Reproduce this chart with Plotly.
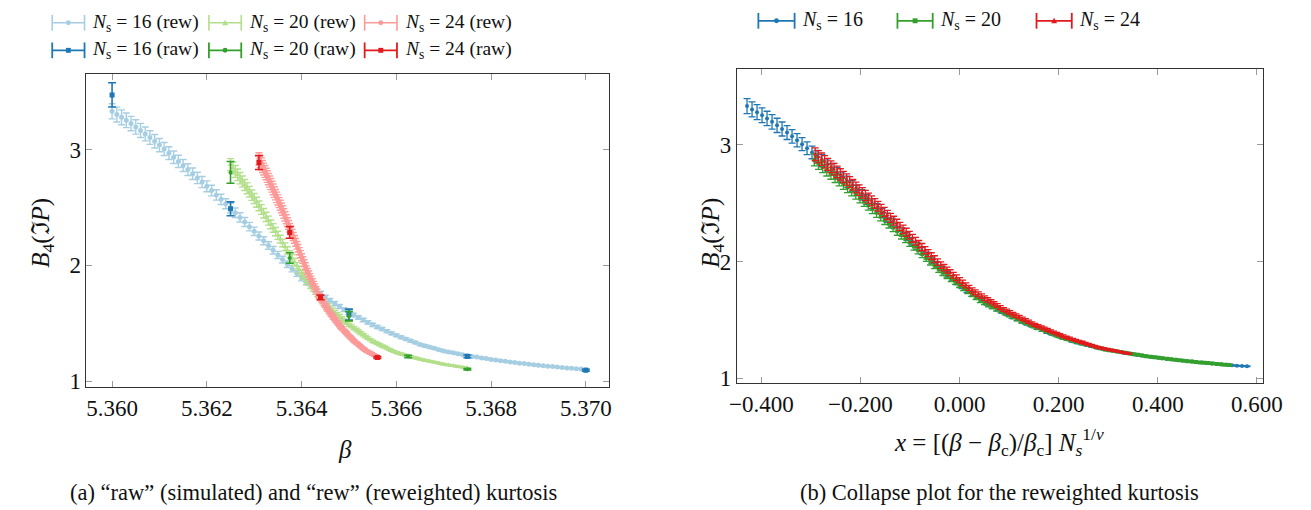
import plotly.graph_objects as go

W, H = 1311, 510
FONT = "Liberation Serif"

# ---------------- data: reweighted kurtosis curves ----------------
beta16 = [5.3600, 5.3601, 5.3602, 5.3603, 5.3604, 5.3605, 5.3606, 5.3607, 5.3608, 5.3609,
          5.3610, 5.3611, 5.3612, 5.3613, 5.3614, 5.3615, 5.3616, 5.3617, 5.3618, 5.3619,
          5.3620, 5.3621, 5.3622, 5.3623, 5.3624, 5.3625, 5.3626, 5.3627, 5.3628, 5.3629,
          5.3630, 5.3631, 5.3632, 5.3633, 5.3634, 5.3635, 5.3636, 5.3637, 5.3638, 5.3639,
          5.3640, 5.3641, 5.3642, 5.3643, 5.3644, 5.3645, 5.3646, 5.3647, 5.3648, 5.3649,
          5.3650, 5.3651, 5.3652, 5.3653, 5.3654, 5.3655, 5.3656, 5.3657, 5.3658, 5.3659,
          5.3660, 5.3661, 5.3662, 5.3663, 5.3664, 5.3665, 5.3666, 5.3667, 5.3668, 5.3669,
          5.3670, 5.3671, 5.3672, 5.3673, 5.3674, 5.3675, 5.3676, 5.3677, 5.3678, 5.3679,
          5.3680, 5.3681, 5.3682, 5.3683, 5.3684, 5.3685, 5.3686, 5.3687, 5.3688, 5.3689,
          5.3690, 5.3691, 5.3692, 5.3693, 5.3694, 5.3695, 5.3696, 5.3697, 5.3698, 5.3699,
          5.3700]
rew16 = [3.332, 3.304, 3.280, 3.254, 3.226, 3.197, 3.167, 3.136, 3.105, 3.073,
         3.040, 3.006, 2.971, 2.935, 2.899, 2.864, 2.828, 2.792, 2.756, 2.720,
         2.684, 2.647, 2.609, 2.571, 2.533, 2.495, 2.455, 2.415, 2.375, 2.335,
         2.295, 2.254, 2.213, 2.172, 2.131, 2.090, 2.050, 2.010, 1.971, 1.931,
         1.891, 1.857, 1.823, 1.790, 1.756, 1.722, 1.696, 1.670, 1.644, 1.618,
         1.592, 1.571, 1.550, 1.528, 1.507, 1.486, 1.468, 1.450, 1.431, 1.413,
         1.395, 1.379, 1.364, 1.348, 1.333, 1.317, 1.306, 1.294, 1.283, 1.271,
         1.260, 1.252, 1.244, 1.236, 1.228, 1.220, 1.213, 1.207, 1.200, 1.194,
         1.187, 1.182, 1.176, 1.171, 1.165, 1.160, 1.155, 1.151, 1.146, 1.142,
         1.137, 1.133, 1.129, 1.125, 1.121, 1.117, 1.114, 1.111, 1.107, 1.104,
         1.101]
rew16_err = [0.065, 0.064, 0.064, 0.063, 0.062, 0.062, 0.061, 0.060, 0.059, 0.058,
             0.057, 0.056, 0.055, 0.054, 0.053, 0.052, 0.051, 0.050, 0.049, 0.048,
             0.047, 0.046, 0.045, 0.044, 0.043, 0.042, 0.041, 0.040, 0.039, 0.037,
             0.036, 0.035, 0.034, 0.033, 0.032, 0.031, 0.029, 0.028, 0.027, 0.026,
             0.025, 0.024, 0.023, 0.022, 0.021, 0.020, 0.019, 0.019, 0.018, 0.017,
             0.017, 0.016, 0.015, 0.015, 0.014, 0.014, 0.013, 0.013, 0.012, 0.012,
             0.011, 0.011, 0.010, 0.010, 0.009, 0.009, 0.009, 0.008, 0.008, 0.008,
             0.007, 0.007, 0.007, 0.007, 0.006, 0.006, 0.006, 0.006, 0.006, 0.005,
             0.005, 0.005, 0.005, 0.005, 0.005, 0.004, 0.004, 0.004, 0.004, 0.004,
             0.004, 0.004, 0.004, 0.004, 0.003, 0.003, 0.003, 0.003, 0.003, 0.003,
             0.003]

beta20 = [5.36250, 5.36255, 5.36260, 5.36265, 5.36270, 5.36275, 5.36280, 5.36285, 5.36290, 5.36295,
          5.36300, 5.36305, 5.36310, 5.36315, 5.36320, 5.36325, 5.36330, 5.36335, 5.36340, 5.36345,
          5.36350, 5.36355, 5.36360, 5.36365, 5.36370, 5.36375, 5.36380, 5.36385, 5.36390, 5.36395,
          5.36400, 5.36405, 5.36410, 5.36415, 5.36420, 5.36425, 5.36430, 5.36435, 5.36440, 5.36445,
          5.36450, 5.36455, 5.36460, 5.36465, 5.36470, 5.36475, 5.36480, 5.36485, 5.36490, 5.36495,
          5.36500, 5.36505, 5.36510, 5.36515, 5.36520, 5.36525, 5.36530, 5.36535, 5.36540, 5.36545,
          5.36550, 5.36555, 5.36560, 5.36565, 5.36570, 5.36575, 5.36580, 5.36585, 5.36590, 5.36595,
          5.36600, 5.36605, 5.36610, 5.36615, 5.36620, 5.36625, 5.36630, 5.36635, 5.36640, 5.36645,
          5.36650, 5.36655, 5.36660, 5.36665, 5.36670, 5.36675, 5.36680, 5.36685, 5.36690, 5.36695,
          5.36700, 5.36705, 5.36710, 5.36715, 5.36720, 5.36725, 5.36730, 5.36735, 5.36740, 5.36745,
          5.36750]
rew20 = [2.871, 2.842, 2.812, 2.783, 2.754, 2.725, 2.695, 2.666, 2.637, 2.607,
         2.578, 2.546, 2.514, 2.483, 2.451, 2.419, 2.387, 2.355, 2.324, 2.292,
         2.260, 2.227, 2.194, 2.162, 2.129, 2.096, 2.063, 2.030, 1.998, 1.965,
         1.932, 1.905, 1.879, 1.852, 1.826, 1.799, 1.772, 1.746, 1.719, 1.693,
         1.666, 1.648, 1.630, 1.612, 1.594, 1.577, 1.559, 1.541, 1.523, 1.505,
         1.487, 1.473, 1.458, 1.444, 1.429, 1.415, 1.401, 1.386, 1.372, 1.357,
         1.343, 1.333, 1.324, 1.314, 1.304, 1.295, 1.285, 1.275, 1.265, 1.256,
         1.246, 1.240, 1.234, 1.229, 1.223, 1.217, 1.211, 1.205, 1.200, 1.194,
         1.188, 1.184, 1.179, 1.175, 1.171, 1.167, 1.162, 1.158, 1.154, 1.149,
         1.145, 1.142, 1.138, 1.135, 1.132, 1.129, 1.125, 1.122, 1.119, 1.115,
         1.112]
rew20_err = [0.052, 0.052, 0.051, 0.050, 0.049, 0.048, 0.047, 0.047, 0.046, 0.045,
             0.044, 0.043, 0.042, 0.042, 0.041, 0.040, 0.039, 0.038, 0.037, 0.036,
             0.035, 0.034, 0.033, 0.033, 0.032, 0.031, 0.030, 0.029, 0.028, 0.027,
             0.026, 0.025, 0.025, 0.024, 0.023, 0.022, 0.022, 0.021, 0.020, 0.019,
             0.019, 0.018, 0.018, 0.017, 0.017, 0.016, 0.016, 0.015, 0.015, 0.014,
             0.014, 0.013, 0.013, 0.012, 0.012, 0.012, 0.011, 0.011, 0.010, 0.010,
             0.010, 0.009, 0.009, 0.009, 0.009, 0.008, 0.008, 0.008, 0.007, 0.007,
             0.007, 0.007, 0.007, 0.006, 0.006, 0.006, 0.006, 0.006, 0.006, 0.005,
             0.005, 0.005, 0.005, 0.005, 0.005, 0.005, 0.005, 0.004, 0.004, 0.004,
             0.004, 0.004, 0.004, 0.004, 0.004, 0.004, 0.004, 0.003, 0.003, 0.003,
             0.003]

beta24 = [5.363100, 5.363125, 5.363150, 5.363175, 5.363200, 5.363225, 5.363250, 5.363275, 5.363300, 5.363325,
          5.363350, 5.363375, 5.363400, 5.363425, 5.363450, 5.363475, 5.363500, 5.363525, 5.363550, 5.363575,
          5.363600, 5.363625, 5.363650, 5.363675, 5.363700, 5.363725, 5.363750, 5.363775, 5.363800, 5.363825,
          5.363850, 5.363875, 5.363900, 5.363925, 5.363950, 5.363975, 5.364000, 5.364025, 5.364050, 5.364075,
          5.364100, 5.364125, 5.364150, 5.364175, 5.364200, 5.364225, 5.364250, 5.364275, 5.364300, 5.364325,
          5.364350, 5.364375, 5.364400, 5.364425, 5.364450, 5.364475, 5.364500, 5.364525, 5.364550, 5.364575,
          5.364600, 5.364625, 5.364650, 5.364675, 5.364700, 5.364725, 5.364750, 5.364775, 5.364800, 5.364825,
          5.364850, 5.364875, 5.364900, 5.364925, 5.364950, 5.364975, 5.365000, 5.365025, 5.365050, 5.365075,
          5.365100, 5.365125, 5.365150, 5.365175, 5.365200, 5.365225, 5.365250, 5.365275, 5.365300, 5.365325,
          5.365350, 5.365375, 5.365400, 5.365425, 5.365450, 5.365475, 5.365500, 5.365525, 5.365550, 5.365575,
          5.365600]
rew24 = [2.920, 2.898, 2.877, 2.855, 2.833, 2.812, 2.790, 2.768, 2.746, 2.725,
         2.703, 2.680, 2.657, 2.634, 2.611, 2.588, 2.566, 2.543, 2.520, 2.497,
         2.474, 2.449, 2.424, 2.399, 2.374, 2.350, 2.325, 2.300, 2.275, 2.250,
         2.225, 2.199, 2.174, 2.148, 2.123, 2.097, 2.071, 2.046, 2.020, 1.995,
         1.969, 1.947, 1.926, 1.904, 1.882, 1.861, 1.839, 1.817, 1.795, 1.774,
         1.752, 1.736, 1.719, 1.703, 1.686, 1.670, 1.654, 1.637, 1.621, 1.604,
         1.588, 1.575, 1.562, 1.549, 1.536, 1.523, 1.509, 1.496, 1.483, 1.470,
         1.457, 1.446, 1.435, 1.425, 1.414, 1.403, 1.392, 1.381, 1.371, 1.360,
         1.349, 1.341, 1.332, 1.324, 1.315, 1.307, 1.298, 1.290, 1.281, 1.273,
         1.264, 1.259, 1.253, 1.248, 1.242, 1.237, 1.232, 1.226, 1.221, 1.215,
         1.210]
rew24_err = [0.054, 0.053, 0.053, 0.052, 0.051, 0.051, 0.050, 0.050, 0.049, 0.048,
             0.048, 0.047, 0.046, 0.046, 0.045, 0.045, 0.044, 0.043, 0.043, 0.042,
             0.041, 0.041, 0.040, 0.039, 0.038, 0.038, 0.037, 0.036, 0.036, 0.035,
             0.034, 0.034, 0.033, 0.032, 0.031, 0.031, 0.030, 0.029, 0.029, 0.028,
             0.027, 0.027, 0.026, 0.025, 0.025, 0.024, 0.023, 0.023, 0.022, 0.022,
             0.021, 0.021, 0.020, 0.020, 0.019, 0.019, 0.018, 0.018, 0.017, 0.017,
             0.016, 0.016, 0.016, 0.015, 0.015, 0.015, 0.014, 0.014, 0.014, 0.013,
             0.013, 0.012, 0.012, 0.012, 0.012, 0.011, 0.011, 0.011, 0.010, 0.010,
             0.010, 0.010, 0.009, 0.009, 0.009, 0.009, 0.008, 0.008, 0.008, 0.008,
             0.007, 0.007, 0.007, 0.007, 0.007, 0.007, 0.006, 0.006, 0.006, 0.006,
             0.006]

# ---------------- data: raw (simulated) points ----------------
raw16_beta = [5.3600, 5.3625, 5.3650, 5.3675, 5.3700]
raw16 = [3.474, 2.489, 1.575, 1.213, 1.094]
raw16_err = [0.105, 0.060, 0.047, 0.012, 0.008]
raw20_beta = [5.3625, 5.36375, 5.3650, 5.36625, 5.3675]
raw20 = [2.804, 2.064, 1.560, 1.213, 1.102]
raw20_err = [0.094, 0.045, 0.040, 0.010, 0.006]
raw24_beta = [5.3631, 5.36375, 5.3644, 5.3656]
raw24 = [2.889, 2.285, 1.723, 1.204]
raw24_err = [0.060, 0.050, 0.020, 0.008]

# collapse parameters (x = (beta - beta_c)/beta_c * N^(1/nu))
BETA_C = 5.36425
INV_NU = 2.27

# tick values
xticks_a = [5.360, 5.362, 5.364, 5.366, 5.368, 5.370]
xticks_b = [-0.4, -0.2, 0.0, 0.2, 0.4, 0.6]
yticks = [1, 2, 3]

LIGHT = {16: "#a6cee3", 20: "#b2df8a", 24: "#fb9a99"}
DARK = {16: "#1f78b4", 20: "#33a02c", 24: "#e31a1c"}


def P(px, py):
    return px / W, 1 - py / H


fig = go.Figure()

rew_sets = [(16, beta16, rew16, rew16_err, "circle"),
            (20, beta20, rew20, rew20_err, "triangle-up"),
            (24, beta24, rew24, rew24_err, "circle")]
raw_sets = [(16, raw16_beta, raw16, raw16_err, "square"),
            (20, raw20_beta, raw20, raw20_err, "circle"),
            (24, raw24_beta, raw24, raw24_err, "square")]

for N, b, y, e, sym in rew_sets:
    fig.add_trace(go.Scatter(
        x=b, y=y, mode="markers", xaxis="x", yaxis="y", showlegend=False, hoverinfo="skip",
        marker=dict(color=LIGHT[N], size=5, symbol=sym, line=dict(width=0)),
        error_y=dict(type="data", array=e, color=LIGHT[N], thickness=1.4, width=3.5)))

for N, b, y, e, sym in raw_sets:
    fig.add_trace(go.Scatter(
        x=b, y=y, mode="markers", xaxis="x", yaxis="y", showlegend=False, hoverinfo="skip",
        marker=dict(color=DARK[N], size=5 if sym == "square" else 4, symbol=sym, line=dict(width=0)),
        error_y=dict(type="data", array=e, color=DARK[N], thickness=1.6, width=4)))

collapse_sym = {16: "circle", 20: "square", 24: "triangle-up"}
for N, b, y, e, _ in rew_sets:
    xs = [(bb - BETA_C) / BETA_C * N ** INV_NU for bb in b]
    fig.add_trace(go.Scatter(
        x=xs, y=y, mode="markers", xaxis="x2", yaxis="y2", showlegend=False, hoverinfo="skip",
        marker=dict(color=DARK[N], size=4, symbol=collapse_sym[N], line=dict(width=0)),
        error_y=dict(type="data", array=e, color=DARK[N], thickness=1.3, width=3.5)))

axis_style = dict(showline=True, linecolor="#333333", linewidth=1, mirror="ticks",
                  ticks="inside", ticklen=6, tickwidth=1, tickcolor="#9a9a9a",
                  showgrid=False, zeroline=False,
                  tickfont=dict(family=FONT, size=23, color="#111111"))

fig.update_layout(
    width=W, height=H, autosize=False,
    margin=dict(l=0, r=0, t=0, b=0),
    paper_bgcolor="white", plot_bgcolor="white", showlegend=False,
    font=dict(family=FONT, color="#111111"),
    xaxis=dict(domain=[73 / W, 607 / W], range=[5.35946, 5.37050], anchor="y",
               tickvals=xticks_a, tickformat=".3f", **axis_style),
    yaxis=dict(domain=[1 - 385 / H, 1 - 67 / H], range=[0.949, 3.655], anchor="x",
               tickvals=yticks, **axis_style),
    xaxis2=dict(domain=[737 / W, 1274 / W], range=[-0.4494, 0.6119], anchor="y2",
                tickvals=xticks_b, tickformat=".3f", **axis_style),
    yaxis2=dict(domain=[1 - 381 / H, 1 - 62 / H], range=[0.958, 3.650], anchor="x2",
                tickvals=yticks, **axis_style),
)

annotations = []
shapes = []


def text(px, py, s, size, xanchor="center", angle=0):
    x, y = P(px, py)
    annotations.append(dict(x=x, y=y, xref="paper", yref="paper", text=s, showarrow=False,
                            xanchor=xanchor, yanchor="middle", textangle=angle,
                            font=dict(family=FONT, size=size, color="#111111")))


# axis titles and captions
text(337, 449, "<i>β</i>", 25)
text(28, 228, "<i>B</i><sub>4</sub>(ℑ<i>P</i>)", 25, angle=-90)
text(712, 228, "<i>B</i><sub>4</sub>(ℑ<i>P</i>)", 25, angle=-90)
text(1005, 441, "<i>x</i> = [(<i>β</i> − <i>β</i><sub>c</sub>)/<i>β</i><sub>c</sub>] "
                "<i>N</i><sub><i>s</i></sub><sup>1/<i>ν</i></sup>", 25)
text(305, 492, "(a) “raw” (simulated) and “rew” (reweighted) kurtosis", 22.5)
text(1005, 492, "(b) Collapse plot for the reweighted kurtosis", 22.5)


def legend_entry(x0, x1, yc, color, sym, tx, label, size, lw):
    def line(ax, ay, bx, by):
        (a, b_), (c, d) = P(ax, ay), P(bx, by)
        shapes.append(dict(type="line", xref="paper", yref="paper", x0=a, y0=b_, x1=c, y1=d,
                           line=dict(color=color, width=lw)))
    line(x0, yc, x1, yc)
    line(x0, yc - 8, x0, yc + 8)
    line(x1, yc - 8, x1, yc + 8)
    xm = (x0 + x1) / 2
    r = 2.5
    if sym == "triangle":
        pts = [P(xm - 3, yc + 2.5), P(xm + 3, yc + 2.5), P(xm, yc - 3)]
        path = "M {} {} L {} {} L {} {} Z".format(pts[0][0], pts[0][1], pts[1][0], pts[1][1],
                                                 pts[2][0], pts[2][1])
        shapes.append(dict(type="path", xref="paper", yref="paper", path=path,
                           fillcolor=color, line=dict(color=color, width=0)))
    else:
        (a, b_), (c, d) = P(xm - r, yc + r), P(xm + r, yc - r)
        shapes.append(dict(type="rect" if sym == "square" else "circle", xref="paper", yref="paper",
                           x0=a, y0=b_, x1=c, y1=d, fillcolor=color, line=dict(color=color, width=0)))
    text(tx, yc, label, size, xanchor="left")


cols_a = [(38, 71, 77), (198, 231, 237), (357, 390, 396)]
for (x0, x1, tx), N, sym in zip(cols_a, [16, 20, 24], ["circle", "triangle", "circle"]):
    legend_entry(x0, x1, 15, LIGHT[N], sym, tx,
                 "<i>N</i><sub>s</sub> = {} (rew)".format(N), 19.5, 1.6)
for (x0, x1, tx), N, sym in zip(cols_a, [16, 20, 24], ["square", "circle", "square"]):
    legend_entry(x0, x1, 43, DARK[N], sym, tx,
                 "<i>N</i><sub>s</sub> = {} (raw)".format(N), 19.5, 1.8)
cols_b = [(759, 796, 801), (901, 937, 942), (1043, 1079, 1084)]
for (x0, x1, tx), N, sym in zip(cols_b, [16, 20, 24], ["circle", "square", "triangle"]):
    legend_entry(x0, x1, 13, DARK[N], sym, tx, "<i>N</i><sub>s</sub> = {}".format(N), 20, 1.8)

fig.update_layout(annotations=annotations, shapes=shapes)
fig.write_html("out.html")
